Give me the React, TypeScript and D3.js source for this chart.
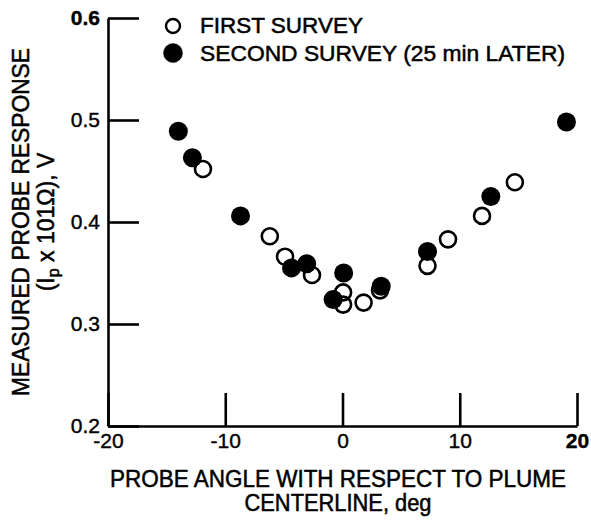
import React, { useEffect, useRef } from "react";
import * as d3 from "d3";

// angle (deg) / probe response (V)
const firstX = [-11.9, -6.2, -4.9, -2.6, 0.05, 0.05, 1.8, 3.2, 7.25, 9.0, 11.9, 14.7];
const firstY = [0.452, 0.386, 0.366, 0.348, 0.331, 0.319, 0.321, 0.333, 0.357, 0.383, 0.406, 0.439];
const secondX = [-14.0, -12.8, -8.7, -4.35, -3.05, 0.1, -0.8, 3.3, 7.25, 12.65, 19.1];
const secondY = [0.489, 0.463, 0.406, 0.355, 0.359, 0.35, 0.324, 0.337, 0.371, 0.425, 0.498];

const xTicks = [-20, -10, 0, 10, 20];
const yTicks = [0.2, 0.3, 0.4, 0.5, 0.6];

const legendLabels = ["FIRST SURVEY", "SECOND SURVEY (25 min LATER)"];

const W = 591;
const H = 521;
const FONT = "'Liberation Sans', Arial, Helvetica, sans-serif";

const App: React.FC = () => {
  const ref = useRef<SVGSVGElement | null>(null);

  useEffect(() => {
    if (!ref.current) return;
    const svg = d3.select(ref.current);
    svg.selectAll("*").remove();

    const x = d3.scaleLinear().domain([-20, 20]).range([108, 577]);
    const y = d3.scaleLinear().domain([0.2, 0.6]).range([426, 18]);

    // y axis, ticks pointing inward
    const gy = svg
      .append("g")
      .attr("transform", `translate(${x(-20)},0)`)
      .call(
        d3
          .axisLeft(y)
          .tickValues(yTicks)
          .tickFormat((d) => (+d).toFixed(1))
          .tickSizeInner(-31)
          .tickSizeOuter(0)
          .tickPadding(8)
      );

    // x axis (plain hyphen for the minus, as in the original)
    const gx = svg
      .append("g")
      .attr("transform", `translate(0,${y(0.2)})`)
      .call(
        d3
          .axisBottom(x)
          .tickValues(xTicks)
          .tickFormat((d) => String(d))
          .tickSizeInner(-33)
          .tickSizeOuter(0)
          .tickPadding(7)
      );

    [gx, gy].forEach((g) => {
      g.selectAll("path, line")
        .attr("stroke", "#000")
        .attr("stroke-width", 2.6);
      g.selectAll("text")
        .attr("fill", "#000")
        .attr("stroke", "#000")
        .attr("stroke-width", 0.4)
        .style("font-family", FONT)
        .style("font-size", "21px");
    });
    gx.selectAll("text").filter((d: any) => d === 20).style("font-weight", "bold");
    gy.selectAll("text").filter((d: any) => d === 0.6).style("font-weight", "bold");

    // data: second survey (discs), first survey (rings)
    svg
      .append("g")
      .selectAll("circle")
      .data(secondX.map((v, i) => [v, secondY[i]]))
      .join("circle")
      .attr("cx", (d) => x(d[0]))
      .attr("cy", (d) => y(d[1]))
      .attr("r", 9.5)
      .attr("fill", "#000");

    svg
      .append("g")
      .selectAll("circle")
      .data(firstX.map((v, i) => [v, firstY[i]]))
      .join("circle")
      .attr("cx", (d) => x(d[0]))
      .attr("cy", (d) => y(d[1]))
      .attr("r", 8)
      .attr("fill", "none")
      .attr("stroke", "#000")
      .attr("stroke-width", 2.6);

    const txt = (g: d3.Selection<SVGGElement, unknown, null, undefined>) =>
      g
        .style("font-family", FONT)
        .attr("fill", "#000")
        .attr("stroke", "#000")
        .attr("stroke-width", 0.5);

    // legend
    const lg = svg.append("g").style("font-size", "22px").call(txt);
    lg.append("circle")
      .attr("cx", 173)
      .attr("cy", 26)
      .attr("r", 7)
      .attr("fill", "none")
      .attr("stroke", "#000")
      .attr("stroke-width", 2.4);
    lg.append("circle").attr("cx", 173).attr("cy", 53).attr("r", 9.5).attr("fill", "#000");
    lg.append("text")
      .attr("x", 200)
      .attr("y", 33)
      .attr("textLength", 163)
      .attr("lengthAdjust", "spacingAndGlyphs")
      .text(legendLabels[0]);
    lg.append("text")
      .attr("x", 200)
      .attr("y", 61)
      .attr("textLength", 365)
      .attr("lengthAdjust", "spacingAndGlyphs")
      .text(legendLabels[1]);

    // x title
    const xt = svg
      .append("g")
      .style("font-size", "23px")
      .attr("text-anchor", "middle")
      .call(txt);
    xt.append("text")
      .attr("x", 338)
      .attr("y", 487)
      .attr("textLength", 456)
      .attr("lengthAdjust", "spacingAndGlyphs")
      .text("PROBE ANGLE WITH RESPECT TO PLUME");
    xt.append("text")
      .attr("x", 338)
      .attr("y", 511)
      .attr("textLength", 187)
      .attr("lengthAdjust", "spacingAndGlyphs")
      .text("CENTERLINE, deg");

    // y title
    const yt = svg
      .append("g")
      .style("font-size", "23px")
      .attr("text-anchor", "middle")
      .call(txt);
    yt.append("text")
      .attr("transform", "translate(29,222) rotate(-90)")
      .attr("textLength", 348)
      .attr("lengthAdjust", "spacingAndGlyphs")
      .text("MEASURED PROBE RESPONSE");
    const l2 = yt.append("text").attr("transform", "translate(54,222) rotate(-90)");
    l2.append("tspan").text("(I");
    l2.append("tspan").attr("dy", 5).style("font-size", "16px").text("p");
    l2.append("tspan").attr("dy", -5).text(" x 101\u03A9), V");
  }, []);

  return (
    <svg
      ref={ref}
      width={W}
      height={H}
      style={{ position: "absolute", left: 0, top: 0, background: "#fff" }}
    />
  );
};

export default App;
